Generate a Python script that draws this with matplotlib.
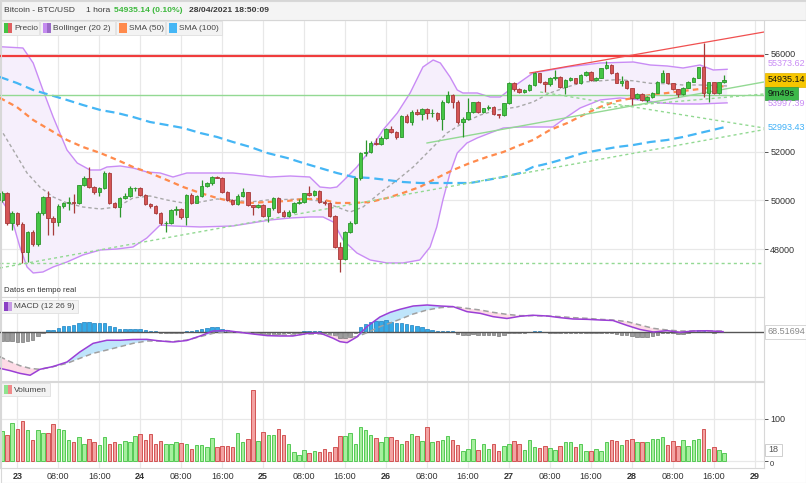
import matplotlib
matplotlib.use('Agg')
import matplotlib.pyplot as plt
import numpy as np
from matplotlib.patches import Rectangle

plt.rcParams['font.family'] = ['Liberation Sans', 'DejaVu Sans']
plt.rcParams['lines.scale_dashes'] = False

# ---------------- DATA ----------------
# hourly candles, hour offsets relative to 2021-04-23 00:00
first_hour = -3
opens = [50017,50290,49088,49471,49034,47872,48720,48200,49498,50127,49266,49129,49785,49895,49930,49881,50632,50905,50536,50330,
         50495,51137,49908,49744,50086,50195,50495,50510,50222,49840,49770,49498,49061,49090,49607,49630,49307,50222,49908,50180,
         50605,50700,50973,50930,50360,50017,49840,50180,50330,49813,49744,49813,49375,49676,50086,49540,49375,49540,49881,49920,
         50290,50222,50386,49950,49880,49360,48105,47600,48692,49088,50905,51930,51998,52367,52298,52572,52913,52818,52613,53460,
         53227,53637,53528,53733,53569,53590,53323,54047,54320,54047,53227,53337,53637,54020,53637,53774,53842,53541,53500,53979,
         54798,54552,54457,54540,54730,55208,54867,54757,55003,55040,54662,54935,55003,54798,55140,55276,54935,55030,55413,55550,
         55235,54826,54900,54593,54184,54361,54115,54224,54416,54867,55208,54798,54552,54361,54621,54867,55030,55454,54388,54839,
         54388,54839]
highs = [50400,50350,49550,49520,49100,48750,48800,49550,50200,50400,49350,49850,49950,50150,50250,50650,51000,51383,50600,50560,
         51200,51180,49950,50150,50300,50600,50560,50550,50250,49900,49800,49520,49150,49650,49750,49680,50250,50300,50220,50830,
         50750,51000,51020,50960,50400,50050,50250,50500,50360,49830,49850,49850,49700,50150,50150,49600,49600,49920,50050,50320,
         50600,50420,50420,50000,49920,49400,48300,48750,49150,50950,52000,52476,52420,52550,52620,52960,53050,52850,53500,53550,
         53700,53750,53800,53780,53750,53620,54100,54500,54350,54100,53400,54180,54050,54060,53800,53900,53880,53560,54000,54850,
         54850,54620,54580,54760,55250,55230,54900,55050,55350,55080,54970,55050,55030,55170,55300,55300,55060,55440,55730,55570,
         55260,55100,54920,54620,54400,54390,54260,54450,54900,55350,55230,54830,54580,54650,54900,55060,55480,56437,54870,54870,
         54870,55140]
lows = [49950,49000,48790,48950,47450,47460,48150,48150,49400,48600,48580,48950,49700,49600,49500,49850,50580,50500,50250,50200,
        50450,49850,49700,49330,50050,50150,50400,50200,49800,49700,49450,49000,48720,49050,49400,49250,48980,49850,49880,50150,
        50550,50650,50900,50300,49980,49800,49800,50150,49780,49420,49700,49330,49120,49620,49500,49340,49330,49500,49850,49880,
        50200,50180,49900,49820,49300,48050,47053,47550,48650,49050,50850,51800,51950,52250,52250,52500,52780,52500,52580,53180,
        53100,53480,53300,53350,53400,53250,52900,54000,53800,53150,52612,53300,53600,53580,53600,53700,53480,53380,53450,53950,
        54500,54420,54420,54500,54700,54830,54457,54700,54950,54620,54350,54900,54770,54760,55100,54900,54900,55000,55380,55200,
        54800,54700,54560,53910,54150,54080,54050,54190,54390,54840,54770,54520,54250,54330,54590,54840,55000,54250,54047,54360,
        54360,54800]
closes = [50290,49088,49471,49034,47872,48720,48200,49498,50127,49266,49129,49785,49895,49930,49900,50632,50905,50536,50330,50495,
          51137,49908,49744,50086,50195,50495,50510,50222,49840,49770,49498,49061,49090,49607,49630,49307,50222,49908,50180,50605,
          50700,50973,50930,50360,50017,49840,50180,50330,49813,49744,49813,49375,49676,50086,49540,49375,49540,49881,49920,50290,
          50222,50386,49950,49880,49360,48105,47600,48692,49088,50905,51930,51998,52367,52298,52572,52913,52818,52613,53460,53227,
          53637,53528,53733,53569,53590,53323,54047,54320,54047,53227,53337,53637,54020,53637,53774,53842,53541,53500,53979,54798,
          54552,54457,54540,54730,55208,54867,54757,55003,55040,54662,54935,55003,54798,55140,55276,54935,55030,55413,55550,55235,
          54826,54900,54593,54184,54361,54115,54224,54416,54867,55208,54798,54552,54361,54621,54867,55030,55454,54388,54839,54388,
          54839,54935]
volumes = [71,62,91,76,95,74,49,74,66,66,88,76,74,50,45,58,41,52,45,38,56,40,45,41,48,45,60,64,50,64,
           41,47,41,40,45,42,40,29,38,38,33,55,34,36,36,33,66,45,52,169,48,68,62,63,76,62,40,22,14,25,
           18,24,21,28,21,33,60,60,67,40,82,74,62,55,45,56,56,49,40,48,64,60,48,80,45,48,49,59,50,37,
           24,28,52,25,41,28,41,24,36,41,48,40,25,49,33,30,35,30,25,35,45,45,33,41,24,24,28,24,45,49,
           47,38,49,52,45,45,45,52,52,57,37,47,36,49,36,49,52,76,28,33,25,18]
macd_hist = [-187,-187,-187,-200,-207,-187,-153,-73,-13,33,47,80,113,113,133,180,200,200,180,180,
             180,113,100,67,67,67,67,67,47,27,13,-20,-20,-20,-20,-20,27,27,47,60,80,93,93,67,33,7,7,0,-20,-20,
             -33,-33,-33,-33,-33,-20,-20,-20,-20,27,27,27,13,-20,-20,-53,-120,-120,-100,-20,93,160,193,213,213,233,200,180,180,160,
             133,113,93,67,47,27,27,27,13,-33,-53,-67,-40,-53,-53,-53,-67,-87,-67,-20,-20,-20,-20,-7,13,13,0,-13,-13,-13,
             -13,-13,-13,-13,-13,-13,-20,-20,-20,-27,-33,-53,-67,-87,-100,-107,-107,-87,-53,-20,-20,-20,-33,-33,-20,-7,47,13,0,-20,
             -7,-7]

# MACD line and signal line (same hour samples)
macd_hours = [-3.4,-1.4,0.5,2.5,4.4,7.0,9.7,12.2,14.8,17.5,20.1,22.6,25.3,27.9,30.4,33.1,35.7,38.2,41.0,43.5,46.0,48.8,51.3,53.8,
              56.6,59.1,61.7,63.0,64.4,66.3,68.3,70.8,72.8,74.7,77.3,80.0,82.6,85.1,87.8,90.4,92.9,95.6,98.2,100.7,103.5,106.0,
              108.5,111.3,113.8,116.3,119.1,121.6,124.2,126.9,129.4,131.9,134.7,137.8]
macd_line = [-727,-773,-827,-865,-747,-690,-600,-400,-227,-165,-165,-150,-147,-180,-200,-170,-80,20,27,-7,-40,-73,-80,-80,
             -30,-20,-127,-193,-213,-100,110,300,393,453,520,540,520,507,407,373,307,270,315,335,320,287,
             260,253,240,230,130,50,0,27,-7,20,25,7]
signal_line = [-493,-593,-673,-727,-747,-693,-627,-527,-427,-360,-293,-227,-180,-180,-193,-160,-93,-27,7,-7,-27,-47,-60,-60,
               -40,-40,-60,-80,-107,-93,-13,107,180,253,360,440,487,507,473,440,393,353,327,327,320,307,
               287,273,253,240,207,140,73,40,20,20,20,20]

# Bollinger (20, 2)
boll_up_hours = [-3.4,1.1,3.1,5.0,7.0,8.3,9.7,11.7,14.2,16.2,17.5,20.1,22.6,25.3,27.9,30.4,33.1,35.7,38.2,42.1,46.0,49.4,53.3,57.1,
                 59.1,61.1,62.4,64.4,66.3,68.9,71.4,74.2,76.7,79.2,81.2,82.6,84.5,85.9,87.0,89.8,92.3,94.3,97.5,100.7,107.4,113.8,
                 120.3,123.6,126.9,130.0,133.3,135.9,138.6]
boll_up = [56299,56246,55631,54525,53418,52763,52066,51533,51246,51246,51369,51410,51328,51164,51123,50959,51123,51123,51123,51123,
           51041,50959,51000,50959,50549,50508,50549,50959,51369,52066,52885,53582,54402,55467,55754,55631,55057,54525,54402,54402,
           54238,54238,54750,55221,55467,55631,55672,55549,55508,55426,55549,55344,55373]
boll_lo_hours = [-3.4,-1.4,0.5,1.9,3.1,5.0,7.0,9.7,12.8,16.2,19.5,22.6,25.3,27.9,30.4,35.7,42.1,49.4,53.3,57.1,59.7,61.7,63.6,66.3,
                 68.9,72.2,75.3,78.6,80.6,81.9,83.1,84.5,85.9,87.8,89.8,92.3,94.9,98.2,104.6,107.0,109.9,113.8,117.7,121.6,125.5,
                 129.4,133.3,138.6]
boll_lo = [50099,49484,48091,47271,47025,47066,47271,47476,47763,47968,48009,48091,48460,48993,48952,48911,48952,49197,49279,49320,
           49320,49115,48378,47845,47558,47435,47435,47558,48091,48911,50017,51123,51943,52353,52558,52763,52967,53008,53008,53377,
           53787,54115,54197,54115,53992,53951,53951,53997]
boll_mid_hours = [-3.4,-0.8,1.9,4.4,7.0,9.7,12.8,16.2,19.5,22.6,25.9,29.2,32.4,35.7,39.0,42.1,45.5,48.8,55.8,59.1,62.4,65.0,67.5,
                  70.8,74.2,77.3,80.6,83.9,87.0,90.4,93.7,97.6,100.7,104.0,107.4,110.5,113.8,117.1,120.3,123.6,126.9,130.0,133.3,138.6]
boll_mid = [52967,52066,51123,50549,50140,49894,49730,49648,49730,50099,50181,50017,49894,49935,50058,50017,49935,50017,50058,49976,
            49730,49525,49730,50304,50837,51369,52066,52763,53172,53500,53705,53828,54033,54402,54648,54853,54900,54950,54900,54800,
            54780,54730,54730,54690]

# SMA 50 / SMA 100
sma_hours = [-3.4,-0.1,3.1,6.4,9.7,12.8,16.2,19.5,22.6,25.9,29.2,32.4,35.7,39.0,42.1,45.5,48.8,52.7,55.8,59.1,62.4,65.6,68.9,72.2,
             75.3,78.6,81.9,85.1,88.4,91.7,94.9,98.2,100.7,104.0,107.4,110.5,113.8,117.1,120.3,123.6,126.9,130.0,133.3,136.6,137.9]
sma50 = [54200,53828,53295,52885,52476,52189,51943,51656,51369,51123,50836,50549,50304,50099,49935,49894,49935,49976,50058,50058,
         49894,49894,49935,50099,50304,50549,50918,51246,51533,51779,51984,52271,52476,52885,53172,53500,53828,54074,54197,54320,
         54402,54484,54566,54648,54680]
sma100 = [55057,54812,54525,54320,54115,53910,53705,53582,53418,53213,53090,52967,52763,52599,52394,52189,51943,51738,51533,51328,
          51123,50959,50918,50836,50754,50713,50713,50713,50713,50836,50959,51123,51369,51533,51738,51943,52066,52189,52271,52394,
          52476,52599,52763,52927,52993]

# drawn lines (hour, price)
resist_level = 55900
support_level = 54320
low_level = 47447
rise_dotted_h = [-3.4, 145.8]; rise_dotted_p = [47230, 52900]
chan_low_h = [80.0, 145.8];   chan_low_p = [52353, 54853]
chan_high_h = [100.1, 145.8]; chan_high_p = [55221, 56901]
desc_dash_h = [102.1, 145.8]; desc_dash_p = [54443, 52968]
rise_dash_h = [111.8, 145.8]; rise_dash_p = [53746, 54361]

day_labels = ['23', '24', '25', '26', '27', '28', '29']

# ---------------- FIGURE ----------------
W, H = 806, 483
fig = plt.figure(figsize=(W / 100, H / 100), dpi=100)
RIGHT = 764

def rect(top, bottom, left=0, right=RIGHT):
    return [left / W, 1 - bottom / H, (right - left) / W, (bottom - top) / H]

ax_p = fig.add_axes(rect(20, 297))
ax_m = fig.add_axes(rect(297, 381))
ax_v = fig.add_axes(rect(382, 468))

XL = (-3.38, 145.8)
grid_c = '#e8e8e8'
for ax in (ax_p, ax_m, ax_v):
    ax.set_xlim(*XL)
    for s in ax.spines.values():
        s.set_color('#d8d8d8'); s.set_linewidth(0.8)
    for gx in range(0, 145, 8):
        ax.axvline(gx, color=grid_c, lw=0.9, zorder=0)
    ax.tick_params(axis='x', length=0, labelbottom=False)
    ax.yaxis.tick_right()
    ax.tick_params(axis='y', length=3, width=0.7, color='#555', labelsize=6.5, labelcolor='#333', pad=1.5)

# ---- price panel ----
ax_p.set_ylim(46041, 57393)
for gy in (48000, 50000, 52000, 56000):
    ax_p.axhline(gy, color=grid_c, lw=0.9, zorder=0)
ax_p.set_yticks([48000, 50000, 52000, 56000])

ax_p.fill(np.r_[boll_up_hours, boll_lo_hours[::-1]], np.r_[boll_up, boll_lo[::-1]],
          color='#f6effc', zorder=1, lw=0)
ax_p.plot(boll_up_hours, boll_up, color='#c98cf5', lw=1.0, zorder=2)
ax_p.plot(boll_lo_hours, boll_lo, color='#c98cf5', lw=1.0, zorder=2)
ax_p.plot(boll_mid_hours, boll_mid, color='#a8a8a8', lw=1.0, dashes=(2.5, 2), zorder=2)
ax_p.plot(sma_hours, sma50, color='#ff8a4c', lw=1.6, dashes=(4, 3), zorder=3)
ax_p.plot(sma_hours, sma100, color='#45b6f5', lw=1.6, dashes=(6.5, 3.5), zorder=3)

lg = '#93d993'
ax_p.axhline(resist_level, color='#f03c3c', lw=1.6, zorder=3)
ax_p.axhline(support_level, color=lg, lw=1.0, zorder=3)
ax_p.axhline(low_level, color=lg, lw=1.0, dashes=(2.2, 2.2), zorder=3)
ax_p.plot(rise_dotted_h, rise_dotted_p, color=lg, lw=1.0, dashes=(2.2, 2.2), zorder=3)
ax_p.plot(chan_low_h, chan_low_p, color=lg, lw=1.0, zorder=3)
ax_p.plot(chan_high_h, chan_high_p, color='#f05050', lw=0.9, zorder=3)
ax_p.plot(desc_dash_h, desc_dash_p, color=lg, lw=1.0, dashes=(2.2, 2.2), zorder=3)
ax_p.plot(rise_dash_h, rise_dash_p, color=lg, lw=1.0, dashes=(2.2, 2.2), zorder=3)

hrs = np.arange(len(closes)) + first_hour
o = np.array(opens, float); c = np.array(closes, float)
hi = np.array(highs, float); lo = np.array(lows, float)
up = c >= o
body_col = np.where(up, '#45c545', '#d55555')
edge_col = np.where(up, '#2c962c', '#a63a3a')
ax_p.vlines(hrs, lo, hi, colors=list(edge_col), lw=0.9, zorder=4)
ax_p.bar(hrs, np.maximum(np.abs(c - o), 25), bottom=np.minimum(o, c), width=0.68,
         color=list(body_col), edgecolor=list(edge_col), linewidth=0.6, zorder=5)

# ---- MACD panel ----
ax_m.set_ylim(-980, 700)
ax_m.set_yticks([])
mh = np.array(macd_hours); ml = np.array(macd_line, float); sl = np.array(signal_line, float)
ax_m.fill_between(mh, ml, sl, where=ml >= sl, interpolate=True, color='#bfe5fb', lw=0, zorder=1)
ax_m.fill_between(mh, ml, sl, where=ml < sl, interpolate=True, color='#fddbe6', lw=0, zorder=1)
hist = np.array(macd_hist, float)
hcol = np.where(hist >= 0, '#33aae8', '#9c9c9c')
hedge = np.where(hist >= 0, '#1f80bf', '#7a7a7a')
ax_m.bar(hrs, hist, width=0.68, color=list(hcol), edgecolor=list(hedge), linewidth=0.5, zorder=2)
ax_m.axhline(0, color='#555555', lw=1.0, zorder=3)
ax_m.plot(mh, sl, color='#a0a0a0', lw=1.1, dashes=(4, 2.5), zorder=4)
ax_m.plot(mh, ml, color='#9b3fd6', lw=1.1, zorder=5)

# ---- Volume panel ----
ax_v.set_ylim(-16.7, 188)
ax_v.axhline(0, color=grid_c, lw=0.9, zorder=0)
ax_v.axhline(100, color=grid_c, lw=0.9, zorder=0)
ax_v.set_yticks([0, 100])
vcol = np.where(up, '#a6ef9e', '#f3a2a2')
vedge = np.where(up, '#56c956', '#d25555')
ax_v.bar(hrs, volumes, width=0.68, color=list(vcol), edgecolor=list(vedge), linewidth=0.7, zorder=2)

ticks = list(range(0, 145, 8))
labels = []
for tk in ticks:
    if tk % 24 == 0:
        labels.append(day_labels[tk // 24])
    else:
        labels.append('%02d:00' % (tk % 24))
ax_v.set_xticks(ticks)
ax_v.set_xticklabels(labels)
ax_v.tick_params(axis='x', labelbottom=True, labelsize=6.5, labelcolor='#333', pad=3)
for lab, tk in zip(ax_v.get_xticklabels(), ticks):
    if tk % 24 == 0:
        lab.set_fontweight('bold')
for lab in ax_v.get_yticklabels():
    if lab.get_text() in ('0', '−0', '-0'):
        lab.set_fontsize(5.5)
        lab.set_va('top')

# ---------------- overlays ----------------
def fbox(x0, y0, x1, y1, fc, ec, lw=0.6, z=6):
    fig.patches.append(Rectangle((x0 / W, 1 - y1 / H), (x1 - x0) / W, (y1 - y0) / H,
                                 transform=fig.transFigure, facecolor=fc, edgecolor=ec, lw=lw, zorder=z))

def ftxt(x, y, s, **kw):
    kw.setdefault('fontsize', 6.0)
    kw.setdefault('color', '#333333')
    fig.text(x / W, 1 - y / H, s, va='center', zorder=8, **kw)

# title bar
fbox(0, 0, W, 20, '#f4f4f4', '#d6d6d6', lw=0.8, z=1)
ftxt(4, 11, 'Bitcoin - BTC/USD', fontsize=6.1, color='#3a3a3a')
ftxt(86, 11, '1 hora', fontsize=6.1, color='#3a3a3a')
ftxt(114, 11, '54935.14 (0.10%)', fontsize=6.1, color='#3cb83c', fontweight='bold')
ftxt(189, 11, '28/04/2021 18:50:09', fontsize=6.1, color='#3a3a3a', fontweight='bold')

def legend_item(x0, x1, y0, y1, c1, c2, label):
    fbox(x0, y0, x1, y1, '#f3f3f3', '#e0e0e0', lw=0.6)
    fbox(x0 + 3, y0 + 2, x0 + 7, y1 - 2, c1, c1, lw=0, z=7)
    fbox(x0 + 7, y0 + 2, x0 + 11, y1 - 2, c2, c2, lw=0, z=7)
    ftxt(x0 + 13, (y0 + y1) / 2 + 0.5, label, fontsize=6.0, color='#444')

legend_item(1, 39, 21, 35, '#44c444', '#e06060', 'Precio')
legend_item(40, 115, 21, 35, '#c58cf0', '#9b6bc8', 'Bollinger (20 2)')
legend_item(116, 165, 21, 35, '#ff8a4c', '#ff8a4c', 'SMA (50)')
legend_item(166, 222, 21, 35, '#45b6f5', '#45b6f5', 'SMA (100)')
ftxt(4, 290, 'Datos en tiempo real', fontsize=5.6, color='#333')
legend_item(1, 78, 300, 313, '#8a3fc4', '#c79be6', 'MACD (12 26 9)')
legend_item(1, 50, 383, 396, '#8fe38f', '#f08a8a', 'Volumen')

# right side value labels
ftxt(768, 63, '55373.62', fontsize=6.5, color='#c98cf5')
ftxt(768, 103, '53997.39', fontsize=6.5, color='#c98cf5')
fbox(765, 73, 806, 87, '#f7c600', '#e0b000', lw=0.5)
ftxt(768, 80, '54935.14', fontsize=6.5, color='#111')
fbox(765, 87, 798, 100, '#3db84a', '#2f9a3c', lw=0.5)
ftxt(768, 93.5, '9m49s', fontsize=6.5, color='#111')
ftxt(768, 127, '52993.43', fontsize=6.5, color='#3fb0f7')
fbox(765, 325, 806, 339, '#ffffff', '#d0d0d0', lw=0.6)
ftxt(768, 332, '68.51694', fontsize=6.5, color='#888')
fbox(765, 444, 782, 456, '#ffffff', '#c8c8c8', lw=0.6)
ftxt(768, 450, '18', fontsize=6.5, color='#555')

# outer border
fbox(0.5, 0.5, W - 0.5, H - 0.5, 'none', '#d8d8d8', lw=0.8, z=9)

fig.savefig('out.png', dpi=100)
